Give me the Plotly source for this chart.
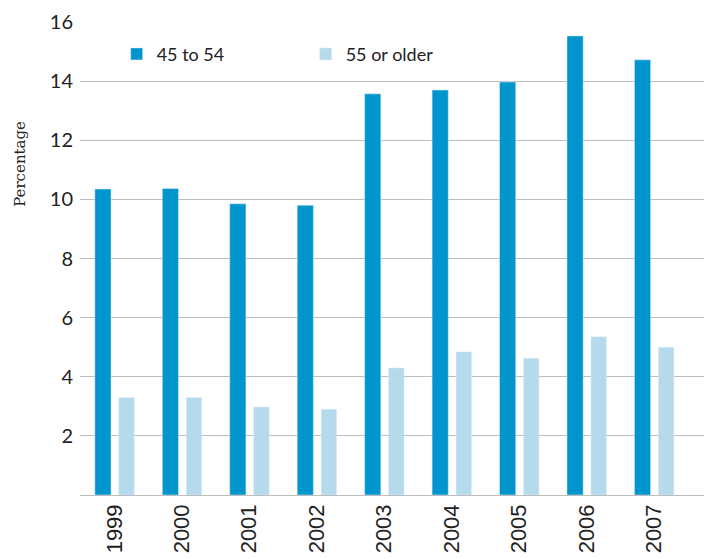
import plotly.graph_objects as go

years = ["1999", "2000", "2001", "2002", "2003", "2004", "2005", "2006", "2007"]
age_45_54 = [10.35, 10.37, 9.85, 9.8, 13.57, 13.7, 13.97, 15.53, 14.72]
age_55_plus = [3.3, 3.3, 2.98, 2.9, 4.3, 4.84, 4.63, 5.35, 5.0]

fig = go.Figure()
fig.add_trace(go.Bar(x=years, y=age_45_54, name="45 to 54", marker_color="#0096CD",
                     width=0.24, offset=-0.29))
fig.add_trace(go.Bar(x=years, y=age_55_plus, name="55 or older", marker_color="#B4DAEC",
                     width=0.23, offset=0.065))

fig.update_layout(
    width=712, height=559,
    margin=dict(l=72, r=8, t=14, b=72, autoexpand=False),
    plot_bgcolor="white", paper_bgcolor="white",
    font=dict(family="Lato", color="#222222"),
    showlegend=True,
    legend=dict(orientation="h", x=0.058, y=0.971, xanchor="left", yanchor="top",
                font=dict(size=18, color="#222222"), entrywidth=144, entrywidthmode="pixels",
                bgcolor="rgba(0,0,0,0)"),
    xaxis=dict(type="category", range=[-0.51, 8.86], tickangle=-90, automargin=False,
               tickfont=dict(family="Liberation Sans", size=22, color="#222222"), showgrid=False,
               showline=False, ticks="", zeroline=False, ticklabelstandoff=4),
    yaxis=dict(range=[0, 16], tickvals=[2, 4, 6, 8, 10, 12, 14, 16], automargin=False,
               tickfont=dict(size=20, color="#222222"), showgrid=True,
               gridcolor="#BDBDBD", gridwidth=1, zeroline=True, zerolinecolor="#BDBDBD",
               zerolinewidth=1, showline=False, ticks="", ticklabelstandoff=6),
)
fig.add_annotation(text="Percentage", xref="paper", yref="paper", x=-0.095, y=0.70,
                   xanchor="center", yanchor="middle", textangle=-90, showarrow=False,
                   font=dict(family="DejaVu Serif", size=15, color="#222222"))

fig.write_html("out.html")
